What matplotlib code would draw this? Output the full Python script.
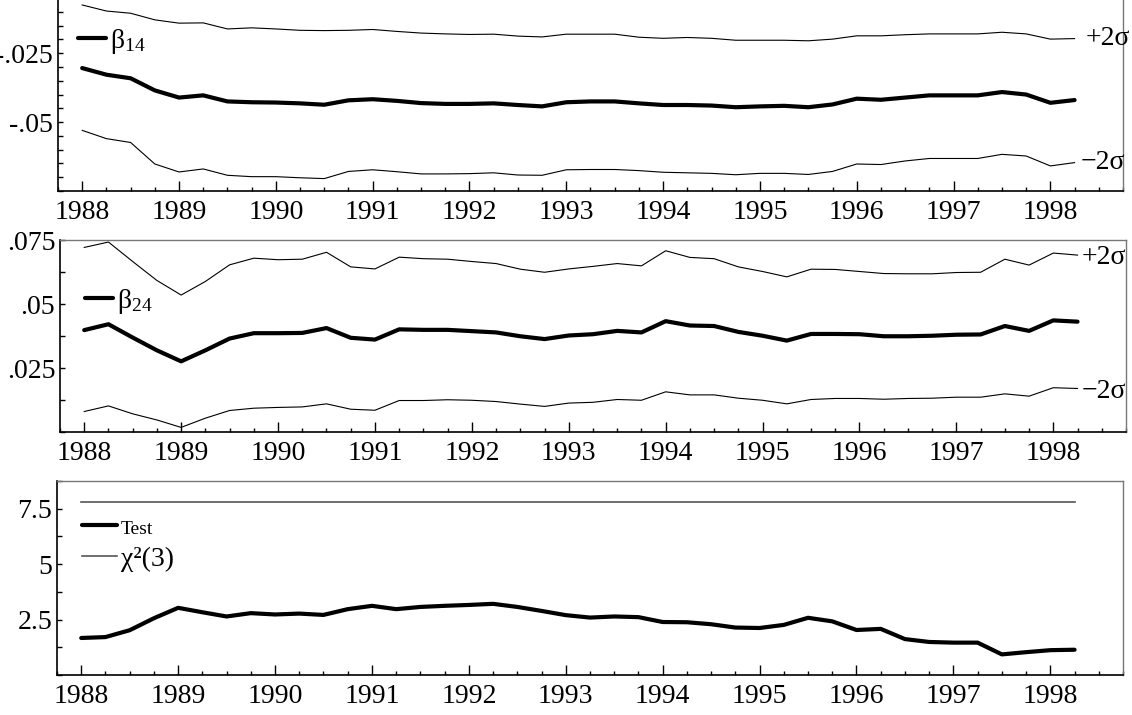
import matplotlib
matplotlib.use('Agg')
import matplotlib.pyplot as plt
from matplotlib.ticker import MultipleLocator, FixedLocator, FuncFormatter
import numpy as np
import pandas as pd

plt.rcParams['font.family'] = ['Liberation Serif', 'DejaVu Serif']
plt.rcParams['mathtext.fontset'] = 'custom'
plt.rcParams['mathtext.rm'] = 'Liberation Serif'
plt.rcParams['mathtext.it'] = 'Liberation Serif:italic'
plt.rcParams['mathtext.default'] = 'rm'

# quarterly sample 1988Q1 - 1998Q2
quarters = pd.period_range('1988Q1', '1998Q2', freq='Q')
t = np.array(quarters.year + (quarters.quarter - 1) / 4.0, dtype=float)

# recursive estimate of beta_14 with +/- 2 s.e. bands
b14 = [-0.0304, -0.0328, -0.0341, -0.0385, -0.0411, -0.0403, -0.0425, -0.0428, -0.0429, -0.0432,
       -0.0437, -0.0421, -0.0417, -0.0423, -0.0431, -0.0434, -0.0434, -0.0432, -0.0438, -0.0443,
       -0.0428, -0.0425, -0.0425, -0.0432, -0.0438, -0.0438, -0.0440, -0.0446, -0.0443, -0.0441,
       -0.0446, -0.0436, -0.0415, -0.0419, -0.0411, -0.0403, -0.0403, -0.0403, -0.0391, -0.0400,
       -0.0430, -0.0420]
b14_hi = [-0.0075, -0.0097, -0.0105, -0.0129, -0.0141, -0.0140, -0.0162, -0.0158, -0.0162, -0.0167,
          -0.0168, -0.0167, -0.0164, -0.0171, -0.0177, -0.0180, -0.0182, -0.0181, -0.0188, -0.0191,
          -0.0181, -0.0181, -0.0181, -0.0192, -0.0196, -0.0193, -0.0196, -0.0203, -0.0203, -0.0203,
          -0.0205, -0.0199, -0.0187, -0.0187, -0.0183, -0.0180, -0.0180, -0.0180, -0.0174, -0.0180,
          -0.0199, -0.0197]
b14_lo = [-0.0530, -0.0560, -0.0574, -0.0652, -0.0681, -0.0670, -0.0693, -0.0698, -0.0698, -0.0702,
          -0.0705, -0.0679, -0.0673, -0.0680, -0.0688, -0.0688, -0.0687, -0.0684, -0.0692, -0.0693,
          -0.0673, -0.0672, -0.0672, -0.0676, -0.0682, -0.0684, -0.0686, -0.0691, -0.0686, -0.0686,
          -0.0690, -0.0679, -0.0652, -0.0654, -0.0641, -0.0632, -0.0632, -0.0632, -0.0617, -0.0623,
          -0.0659, -0.0647]

# beta_24
b24 = [0.0398, 0.0421, 0.0369, 0.0319, 0.0276, 0.0319, 0.0365, 0.0386, 0.0386, 0.0387,
       0.0406, 0.0368, 0.0361, 0.0401, 0.0399, 0.0399, 0.0394, 0.0389, 0.0374, 0.0363,
       0.0377, 0.0382, 0.0395, 0.0389, 0.0433, 0.0416, 0.0414, 0.0391, 0.0376, 0.0357,
       0.0383, 0.0383, 0.0382, 0.0374, 0.0374, 0.0376, 0.0380, 0.0381, 0.0414, 0.0395,
       0.0436, 0.0431]
b24_hi = [0.0721, 0.0742, 0.0666, 0.0592, 0.0535, 0.0588, 0.0653, 0.0679, 0.0673, 0.0675,
          0.0702, 0.0645, 0.0637, 0.0683, 0.0677, 0.0675, 0.0666, 0.0658, 0.0636, 0.0624,
          0.0637, 0.0647, 0.0658, 0.0649, 0.0708, 0.0682, 0.0677, 0.0645, 0.0627, 0.0606,
          0.0636, 0.0635, 0.0627, 0.0619, 0.0618, 0.0618, 0.0623, 0.0624, 0.0675, 0.0652,
          0.0699, 0.0691]
b24_lo = [0.0080, 0.0102, 0.0071, 0.0047, 0.0018, 0.0054, 0.0084, 0.0093, 0.0096, 0.0098,
          0.0110, 0.0089, 0.0085, 0.0123, 0.0123, 0.0126, 0.0124, 0.0119, 0.0109, 0.0100,
          0.0113, 0.0116, 0.0127, 0.0124, 0.0157, 0.0145, 0.0145, 0.0132, 0.0124, 0.0110,
          0.0127, 0.0131, 0.0131, 0.0128, 0.0131, 0.0132, 0.0136, 0.0136, 0.0149, 0.0140,
          0.0173, 0.0170]

# recursive test statistic and 5% chi^2(3) critical value
test = [1.67, 1.71, 2.02, 2.56, 3.03, 2.83, 2.64, 2.79, 2.73, 2.77,
        2.71, 2.97, 3.12, 2.97, 3.07, 3.12, 3.16, 3.21, 3.07, 2.89,
        2.70, 2.59, 2.64, 2.61, 2.39, 2.38, 2.29, 2.14, 2.12, 2.26,
        2.58, 2.42, 2.03, 2.08, 1.62, 1.49, 1.46, 1.46, 0.93, 1.03,
        1.12, 1.14]
chi2_crit = 7.815

years = list(range(1988, 1999))

fig = plt.figure(figsize=(11.32, 7.15), dpi=100)
ax1 = fig.add_axes([0.05124, 0.73287, 0.9408, 0.2891])
ax2 = fig.add_axes([0.0530, 0.3958, 0.9417, 0.26853])
ax3 = fig.add_axes([0.05035, 0.05594, 0.9417, 0.27133])


def dec_fmt(v, pos):
    s = ('%.3f' % v).rstrip('0')
    s = s.replace('0.', '.')
    return s


def style(ax):
    ax.set_xlim(1987.75, 1998.75)
    ax.xaxis.set_major_locator(FixedLocator(years))
    ax.xaxis.set_minor_locator(MultipleLocator(0.25))
    ax.tick_params(axis='x', which='major', direction='in', length=7, width=1, pad=6.5,
                   labelsize=20, top=False)
    ax.tick_params(axis='x', which='minor', direction='in', length=3, width=1, top=False)
    ax.tick_params(axis='y', which='both', direction='in', length=3.5, width=1, pad=3.5,
                   labelsize=20, right=False)
    for s in ['left', 'bottom']:
        ax.spines[s].set_color('black')
        ax.spines[s].set_linewidth(1.2)
    for s in ['top', 'right']:
        ax.spines[s].set_color('#777777')
        ax.spines[s].set_linewidth(1.0)


# panel 1
ax1.plot(t, b14, color='black', lw=3, label=r'$\beta_{14}$', solid_capstyle='round')
ax1.plot(t, b14_hi, color='black', lw=0.8)
ax1.plot(t, b14_lo, color='black', lw=0.8)
ax1.set_ylim(-0.075, 0.0)
ax1.yaxis.set_major_locator(FixedLocator([-0.05, -0.025]))
ax1.yaxis.set_minor_locator(MultipleLocator(0.005))
ax1.yaxis.set_major_formatter(FuncFormatter(dec_fmt))
style(ax1)
ax1.annotate('+2σ', (t[-1], b14_hi[-1]), xytext=(8, 0), textcoords='offset points',
             va='center', ha='left', fontsize=20)
ax1.annotate('\u22122σ', (t[-1], b14_lo[-1]), xytext=(4, 0), textcoords='offset points',
             va='center', ha='left', fontsize=20)
ax1.legend(loc='center left', bbox_to_anchor=(0.0188, 0.725), frameon=False, fontsize=20,
           handlelength=1.0, handletextpad=0.15, borderpad=0, borderaxespad=0)

# panel 2
ax2.plot(t, b24, color='black', lw=3, label=r'$\beta_{24}$', solid_capstyle='round')
ax2.plot(t, b24_hi, color='black', lw=0.8)
ax2.plot(t, b24_lo, color='black', lw=0.8)
ax2.set_ylim(0.0, 0.075)
ax2.yaxis.set_major_locator(FixedLocator([0.025, 0.05, 0.075]))
ax2.yaxis.set_minor_locator(MultipleLocator(0.0125))
ax2.yaxis.set_major_formatter(FuncFormatter(dec_fmt))
style(ax2)
ax2.annotate('+2σ', (t[-1], b24_hi[-1]), xytext=(3, -2), textcoords='offset points',
             va='center', ha='left', fontsize=20)
ax2.annotate('\u22122σ', (t[-1], b24_lo[-1]), xytext=(3, -2), textcoords='offset points',
             va='center', ha='left', fontsize=20)
ax2.legend(loc='center left', bbox_to_anchor=(0.0235, 0.682), frameon=False, fontsize=20,
           handlelength=1.0, handletextpad=0.15, borderpad=0, borderaxespad=0)

# panel 3
ax3.plot(t, test, color='black', lw=3, label='Test', solid_capstyle='round')
ax3.plot(t, [chi2_crit] * len(t), color='#555555', lw=1.2, label='χ²(3)')
ax3.set_ylim(0.0, 8.75)
ax3.yaxis.set_major_locator(FixedLocator([2.5, 5, 7.5]))
ax3.yaxis.set_minor_locator(MultipleLocator(1.25))
ax3.yaxis.set_major_formatter(FuncFormatter(lambda v, p: '%g' % v))
style(ax3)
leg = ax3.legend(loc='center left', bbox_to_anchor=(0.0235, 0.678), frameon=False,
                 fontsize=20, handlelength=1.25, handletextpad=0.15, borderpad=0,
                 borderaxespad=0, labelspacing=0.3)
leg.get_texts()[0].set_fontsize(14)

fig.savefig('out.png', dpi=100)
